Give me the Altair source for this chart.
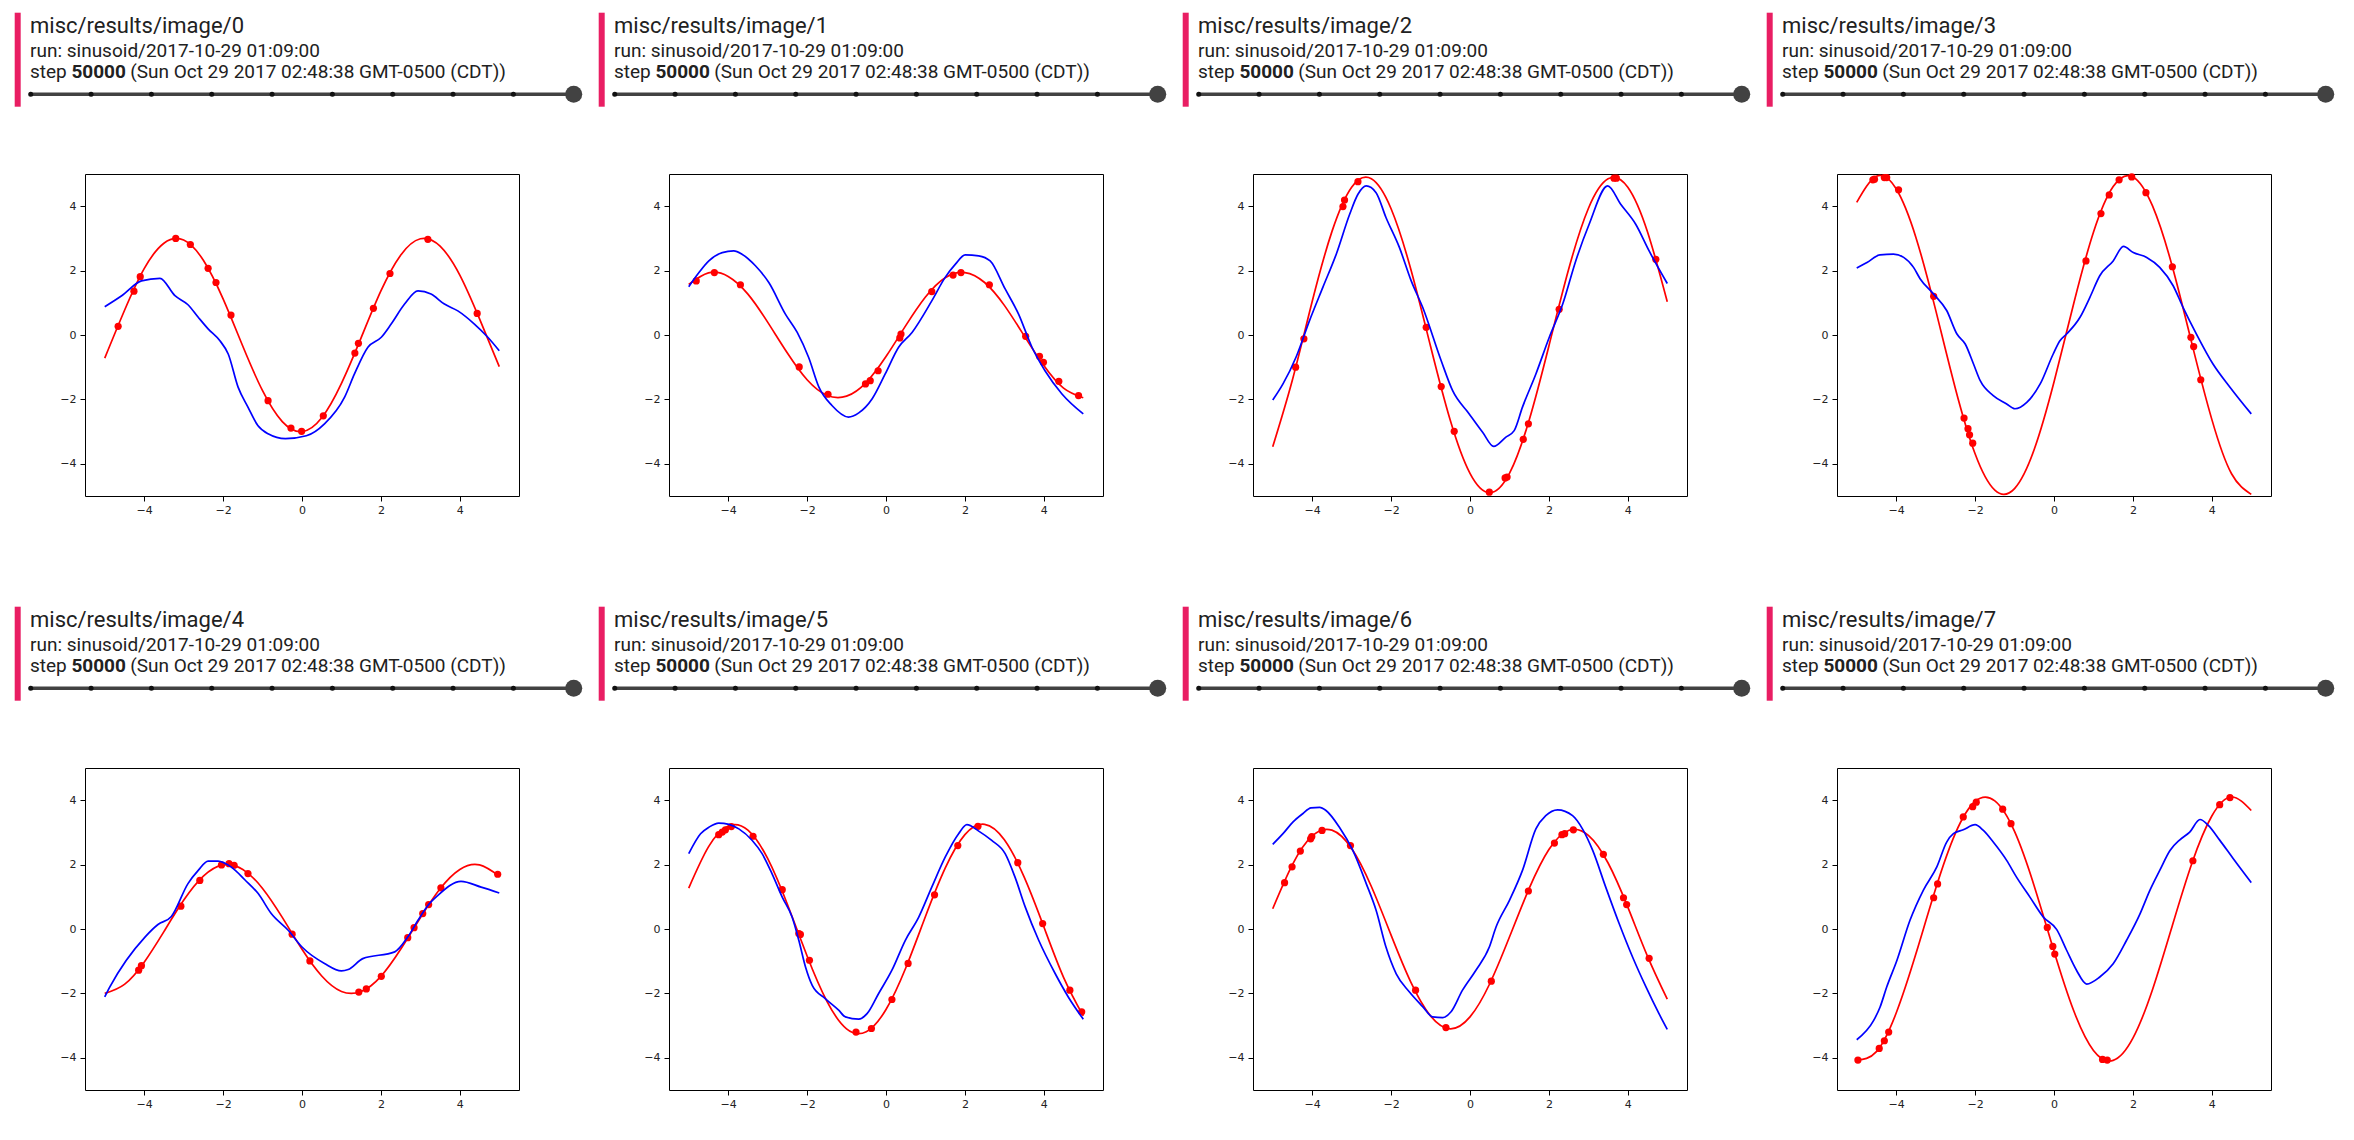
import altair as alt
import pandas as pd

# ---------------- data ----------------
TITLES = ["misc/results/image/0", "misc/results/image/1", "misc/results/image/2", "misc/results/image/3",
          "misc/results/image/4", "misc/results/image/5", "misc/results/image/6", "misc/results/image/7"]
RUN_TEXT = "run: sinusoid/2017-10-29 01:09:00"
STEP_WORD = "step"
STEP_VALUE = "50000"
STEP_DATE = "(Sun Oct 29 2017 02:48:38 GMT-0500 (CDT))"

X_TICKS = [-4, -2, 0, 2, 4]
Y_TICKS = [-4, -2, 0, 2, 4]

RED_X = [-5.0, -4.5, -4.0, -3.5, -3.0, -2.5, -2.0, -1.5, -1.0, -0.5, 0.0,
         0.5, 1.0, 1.5, 2.0, 2.5, 3.0, 3.5, 4.0, 4.5, 5.0]

RED_Y0 = [-0.72, 0.76, 2.06, 2.85, 2.95, 2.32, 1.12, -0.35, -1.73, -2.69, -3.00, -2.57, -1.50, -0.08, 1.37, 2.48, 2.99, 2.76, 1.86, 0.50, -0.98]
RED_Y1 = [1.57, 1.93, 1.82, 1.27, 0.40, -0.56, -1.39, -1.87, -1.90, -1.47, -0.67, 0.29, 1.18, 1.78, 1.94, 1.63, 0.92, -0.02, -0.95, -1.65, -1.95]
RED_Y2 = [-3.47, -1.39, 1.04, 3.21, 4.59, 4.85, 3.92, 2.04, -0.35, -2.65, -4.30, -4.90, -4.30, -2.64, -0.34, 2.04, 3.93, 4.85, 4.59, 3.20, 1.03]
RED_Y3 = [4.12, 4.93, 4.54, 3.03, 0.78, -1.66, -3.69, -4.82, -4.77, -3.55, -1.46, 0.98, 3.19, 4.61, 4.91, 4.00, 2.12, -0.29, -2.62, -4.31, -4.95]
RED_Y4 = [-2.00, -1.72, -1.03, -0.08, 0.89, 1.64, 1.99, 1.85, 1.26, 0.36, -0.63, -1.46, -1.94, -1.94, -1.47, -0.63, 0.35, 1.25, 1.85, 1.99, 1.64]
RED_Y5 = [1.27, 2.55, 3.20, 3.07, 2.19, 0.77, -0.84, -2.24, -3.10, -3.19, -2.50, -1.21, 0.39, 1.89, 2.93, 3.25, 2.77, 1.62, 0.07, -1.50, -2.70]
RED_Y6 = [0.63, 2.00, 2.89, 3.07, 2.50, 1.32, -0.19, -1.65, -2.70, -3.10, -2.73, -1.70, -0.25, 1.26, 2.47, 3.06, 2.91, 2.05, 0.68, -0.85, -2.18]
RED_Y7 = [-4.07, -3.81, -2.61, -0.77, 1.25, 2.97, 3.96, 3.98, 3.03, 1.33, -0.69, -2.54, -3.77, -4.08, -3.39, -1.87, 0.11, 2.06, 3.51, 4.10, 3.68]

PTS_X0 = [-4.66, -4.26, -4.10, -3.20, -2.83, -2.38, -2.18, -1.80, -0.86, -0.28, -0.01, 0.54, 1.34, 1.43, 1.81, 2.23, 3.19, 4.44]
PTS_Y0 = [0.27, 1.36, 1.81, 3.00, 2.81, 2.07, 1.63, 0.62, -2.04, -2.89, -2.99, -2.51, -0.56, -0.26, 0.83, 1.91, 2.97, 0.67]
PTS_X1 = [-4.81, -4.35, -3.69, -2.20, -1.47, -0.52, -0.40, -0.20, 0.35, 0.38, 1.16, 1.70, 1.90, 2.62, 3.54, 3.89, 3.99, 4.38, 4.88]
PTS_Y1 = [1.68, 1.94, 1.56, -0.99, -1.84, -1.52, -1.42, -1.11, -0.09, 0.03, 1.35, 1.86, 1.94, 1.56, -0.04, -0.66, -0.85, -1.44, -1.88]
PTS_X2 = [-4.42, -4.21, -3.22, -3.18, -2.84, -1.11, -0.73, -0.40, 0.49, 0.89, 0.94, 1.35, 1.48, 2.26, 3.65, 3.71, 4.71]
PTS_Y2 = [-1.00, -0.12, 3.99, 4.19, 4.76, 0.24, -1.60, -2.99, -4.88, -4.44, -4.41, -3.24, -2.76, 0.80, 4.87, 4.87, 2.35]
PTS_X3 = [-4.59, -4.55, -4.30, -4.24, -3.94, -3.05, -2.28, -2.18, -2.14, -2.06, 0.81, 1.19, 1.40, 1.65, 1.97, 2.33, 3.00, 3.47, 3.54, 3.72]
PTS_Y3 = [4.82, 4.84, 4.89, 4.89, 4.51, 1.20, -2.58, -2.91, -3.10, -3.36, 2.30, 3.77, 4.35, 4.82, 4.91, 4.42, 2.12, -0.07, -0.36, -1.39]
PTS_X4 = [-4.14, -4.07, -3.07, -2.59, -2.04, -1.85, -1.72, -1.37, -0.25, 0.20, 1.44, 1.63, 2.01, 2.68, 2.84, 3.06, 3.21, 3.52, 4.96]
PTS_Y4 = [-1.28, -1.14, 0.71, 1.51, 1.99, 2.03, 1.98, 1.72, -0.16, -0.99, -1.96, -1.86, -1.47, -0.27, 0.04, 0.48, 0.76, 1.28, 1.70]
PTS_X5 = [-4.24, -4.15, -4.07, -3.92, -3.37, -2.63, -2.21, -2.17, -1.94, -0.76, -0.37, 0.15, 0.56, 1.23, 1.82, 2.33, 3.34, 3.97, 4.66, 4.96]
PTS_Y5 = [2.93, 3.01, 3.08, 3.18, 2.88, 1.22, -0.14, -0.17, -0.97, -3.20, -3.09, -2.19, -1.07, 1.06, 2.59, 3.19, 2.06, 0.17, -1.90, -2.57]
PTS_X6 = [-4.70, -4.51, -4.30, -4.04, -4.01, -3.75, -3.03, -1.38, -0.61, 0.54, 1.48, 2.14, 2.33, 2.40, 2.62, 3.38, 3.89, 3.97, 4.54]
PTS_Y6 = [1.44, 1.93, 2.42, 2.80, 2.87, 3.06, 2.59, -1.90, -3.06, -1.62, 1.18, 2.67, 2.93, 2.96, 3.08, 2.32, 0.97, 0.76, -0.91]
PTS_X7 = [-4.97, -4.43, -4.30, -4.19, -3.05, -2.95, -2.30, -2.06, -1.97, -1.30, -1.09, -0.17, -0.03, 0.02, 1.23, 1.35, 3.52, 4.20, 4.46]
PTS_Y7 = [-4.07, -3.71, -3.47, -3.20, 0.97, 1.40, 3.48, 3.80, 3.94, 3.72, 3.27, 0.05, -0.54, -0.78, -4.05, -4.07, 2.12, 3.86, 4.08]

BLUE_X0 = [-5.0, -4.57, -4.07, -3.60, -3.22, -2.89, -2.63, -2.38, -2.08, -1.87, -1.62, -1.37, -1.12, -0.86, -0.42, 0.11, 0.57, 1.08, 1.33, 1.67, 2.01, 2.26, 2.60, 2.94, 3.27, 3.61, 3.95, 4.37, 4.71, 5.0]
BLUE_Y0 = [0.88, 1.22, 1.68, 1.76, 1.22, 0.94, 0.55, 0.19, -0.18, -0.59, -1.62, -2.24, -2.81, -3.07, -3.22, -3.13, -2.76, -1.93, -1.21, -0.38, -0.07, 0.34, 0.96, 1.37, 1.27, 0.96, 0.75, 0.34, -0.07, -0.49]
BLUE_X1 = [-5.0, -4.74, -4.49, -4.15, -3.86, -3.65, -3.31, -2.97, -2.55, -2.25, -1.96, -1.70, -1.37, -0.95, -0.69, -0.35, -0.02, 0.32, 0.66, 1.16, 1.50, 1.76, 2.01, 2.35, 2.64, 3.02, 3.36, 3.70, 4.03, 4.46, 5.0]
BLUE_Y1 = [1.50, 1.94, 2.30, 2.56, 2.61, 2.51, 2.15, 1.63, 0.65, 0.08, -0.70, -1.62, -2.19, -2.55, -2.42, -1.98, -1.21, -0.38, 0.08, 1.06, 1.79, 2.20, 2.49, 2.46, 2.30, 1.43, 0.65, -0.38, -1.11, -1.83, -2.45]
BLUE_X2 = [-5.0, -4.74, -4.41, -4.07, -3.73, -3.39, -3.05, -2.84, -2.63, -2.38, -2.13, -1.79, -1.49, -1.20, -0.73, -0.44, -0.02, 0.32, 0.60, 0.91, 1.12, 1.33, 1.67, 2.01, 2.35, 2.68, 3.02, 3.49, 3.82, 4.20, 4.54, 5.0]
BLUE_Y2 = [-2.02, -1.52, -0.69, 0.44, 1.48, 2.51, 3.75, 4.37, 4.63, 4.42, 3.65, 2.72, 1.68, 0.86, -0.80, -1.73, -2.45, -3.02, -3.46, -3.17, -2.97, -2.24, -1.21, -0.07, 0.96, 2.30, 3.44, 4.63, 4.06, 3.44, 2.61, 1.60]
BLUE_X3 = [-5.0, -4.74, -4.41, -4.07, -3.81, -3.56, -3.39, -3.05, -2.72, -2.46, -2.25, -2.04, -1.87, -1.54, -1.20, -0.99, -0.69, -0.35, -0.02, 0.15, 0.32, 0.66, 0.91, 1.16, 1.50, 1.76, 2.01, 2.35, 2.68, 3.02, 3.27, 3.61, 4.03, 4.46, 5.0]
BLUE_Y3 = [2.08, 2.25, 2.49, 2.51, 2.41, 2.10, 1.74, 1.27, 0.76, 0.03, -0.28, -0.90, -1.42, -1.88, -2.14, -2.29, -2.09, -1.52, -0.59, -0.18, 0.03, 0.55, 1.17, 1.84, 2.30, 2.75, 2.56, 2.41, 2.10, 1.53, 0.86, 0.03, -0.90, -1.62, -2.45]
BLUE_X4 = [-5.0, -4.87, -3.98, -3.65, -3.31, -2.89, -2.63, -2.38, -2.13, -1.79, -1.45, -1.11, -0.78, -0.35, 0.0, 0.57, 1.0, 1.17, 1.54, 2.35, 2.68, 2.94, 3.19, 3.44, 4.03, 4.54, 5.0]
BLUE_Y4 = [-2.11, -1.80, -0.25, 0.14, 0.39, 1.41, 1.82, 2.11, 2.11, 1.92, 1.53, 1.10, 0.48, -0.04, -0.56, -1.07, -1.30, -1.26, -0.92, -0.71, -0.25, 0.27, 0.73, 1.04, 1.48, 1.30, 1.12]
BLUE_X5 = [-5.0, -4.70, -4.49, -4.24, -3.98, -3.73, -3.39, -3.14, -2.89, -2.63, -2.38, -2.21, -2.04, -1.87, -1.54, -1.20, -1.03, -0.69, -0.48, -0.19, 0.15, 0.49, 0.83, 1.16, 1.50, 1.84, 2.05, 2.35, 2.68, 3.02, 3.27, 3.53, 3.87, 4.29, 4.62, 5.0]
BLUE_Y5 = [2.34, 2.96, 3.16, 3.29, 3.25, 3.11, 2.75, 2.34, 1.72, 0.99, 0.37, -0.35, -1.18, -1.75, -2.16, -2.52, -2.73, -2.80, -2.63, -2.01, -1.28, -0.35, 0.37, 1.30, 2.23, 2.96, 3.24, 3.04, 2.75, 2.34, 1.61, 0.68, -0.35, -1.39, -2.11, -2.80]
BLUE_X6 = [-5.0, -4.74, -4.49, -4.24, -4.03, -3.81, -3.65, -3.31, -2.97, -2.63, -2.38, -2.13, -1.87, -1.54, -1.20, -0.95, -0.69, -0.48, -0.19, 0.15, 0.49, 0.66, 1.00, 1.33, 1.67, 1.92, 2.22, 2.60, 2.85, 3.11, 3.44, 3.78, 4.12, 4.46, 4.79, 5.0]
BLUE_Y6 = [2.63, 2.96, 3.32, 3.58, 3.76, 3.78, 3.68, 3.16, 2.44, 1.41, 0.58, -0.56, -1.39, -1.95, -2.41, -2.73, -2.75, -2.57, -1.90, -1.28, -0.56, 0.06, 0.89, 1.82, 3.11, 3.52, 3.70, 3.52, 3.11, 2.44, 1.30, 0.17, -0.87, -1.80, -2.63, -3.12]
BLUE_X7 = [-5.0, -4.57, -4.41, -4.24, -3.98, -3.65, -3.31, -2.97, -2.72, -2.55, -2.30, -2.00, -1.79, -1.54, -1.20, -0.95, -0.61, -0.27, 0.07, 0.32, 0.57, 0.83, 1.16, 1.50, 1.84, 2.18, 2.43, 2.68, 2.94, 3.19, 3.44, 3.70, 3.91, 4.20, 4.54, 5.0]
BLUE_Y7 = [-3.44, -2.84, -2.43, -1.80, -0.97, 0.27, 1.21, 1.93, 2.70, 2.96, 3.08, 3.24, 3.06, 2.70, 2.13, 1.61, 0.99, 0.37, -0.02, -0.66, -1.28, -1.71, -1.49, -1.08, -0.35, 0.47, 1.20, 1.82, 2.44, 2.77, 3.01, 3.40, 3.22, 2.76, 2.19, 1.44]

RED_Y = [RED_Y0, RED_Y1, RED_Y2, RED_Y3, RED_Y4, RED_Y5, RED_Y6, RED_Y7]
PTS_X = [PTS_X0, PTS_X1, PTS_X2, PTS_X3, PTS_X4, PTS_X5, PTS_X6, PTS_X7]
PTS_Y = [PTS_Y0, PTS_Y1, PTS_Y2, PTS_Y3, PTS_Y4, PTS_Y5, PTS_Y6, PTS_Y7]
BLUE_X = [BLUE_X0, BLUE_X1, BLUE_X2, BLUE_X3, BLUE_X4, BLUE_X5, BLUE_X6, BLUE_X7]
BLUE_Y = [BLUE_Y0, BLUE_Y1, BLUE_Y2, BLUE_Y3, BLUE_Y4, BLUE_Y5, BLUE_Y6, BLUE_Y7]

# ---------------- layout / style ----------------
PLOT_W, PLOT_H = 434, 322
COL_GAP, ROW_GAP = 150, 272
OX, OY = 84.3, 173.3          # plot origin of first panel (page px)

def rx(px):
    return px - OX

def ry(py):
    return py - OY

PINK = "#e91e63"
DARK = "#424242"
TXT = "#212121"
HEAD = pd.DataFrame({"k": [0]})

xs = alt.Scale(domain=[-5.5, 5.5], nice=False, zero=False)
ys = alt.Scale(domain=[-5, 5], nice=False, zero=False)
xax = alt.Axis(values=X_TICKS, title=None, grid=False, domain=False, tickColor="black",
               tickSize=5, tickWidth=1, labelFont="DejaVu Sans", labelFontSize=11,
               labelColor="#222", labelPadding=3)
yax = alt.Axis(values=Y_TICKS, title=None, grid=False, domain=False, tickColor="black",
               tickSize=5, tickWidth=1, labelFont="DejaVu Sans", labelFontSize=11,
               labelColor="#222", labelPadding=4)
EX = alt.X("x:Q", scale=xs, axis=xax)
EY = alt.Y("y:Q", scale=ys, axis=yax)


def text_layer(txt, x, y, size, weight="normal"):
    return alt.Chart(HEAD).mark_text(align="left", baseline="alphabetic", font="Roboto",
                                     fontSize=size, fontWeight=weight, color=TXT).encode(
        x=alt.value(rx(x)), y=alt.value(ry(y)), text=alt.value(txt))


def panel(i):
    red = pd.DataFrame({"x": RED_X, "y": RED_Y[i]})
    pts = pd.DataFrame({"x": PTS_X[i], "y": PTS_Y[i]})
    blue = pd.DataFrame({"x": BLUE_X[i], "y": BLUE_Y[i]})

    red_line = alt.Chart(red).mark_line(color="#ff0000", strokeWidth=1.7,
                                        interpolate="natural").encode(x=EX, y=EY)
    red_pts = alt.Chart(pts).mark_circle(color="#ff0000", size=52, opacity=1).encode(x=EX, y=EY)
    blue_line = alt.Chart(blue).mark_line(color="#0000ff", strokeWidth=1.7,
                                          interpolate="monotone").encode(x=EX, y=EY)

    bar = alt.Chart(HEAD).mark_rect(color=PINK).encode(
        x=alt.value(rx(14)), x2=alt.value(rx(20)), y=alt.value(ry(12)), y2=alt.value(ry(106)))
    title = text_layer(TITLES[i], 29.3, 32.3, 22)
    run = text_layer(RUN_TEXT, 29.3, 56.7, 19)
    s1 = text_layer(STEP_WORD, 29.3, 77.7, 19)
    s2 = text_layer(STEP_VALUE, 70.7, 77.7, 19, "bold")
    s3 = text_layer(STEP_DATE, 129.5, 77.7, 19)
    track = alt.Chart(HEAD).mark_rule(color=DARK, strokeWidth=3.5).encode(
        x=alt.value(rx(30)), x2=alt.value(rx(573)), y=alt.value(ry(93.5)))
    dots = alt.Chart(HEAD).mark_rule(color="#111111", strokeWidth=5, strokeCap="round",
                                     strokeDash=[0.1, 60.23]).encode(
        x=alt.value(rx(30)), x2=alt.value(rx(513)), y=alt.value(ry(93.5)))
    knob = alt.Chart(HEAD).mark_circle(color=DARK, size=290, opacity=1).encode(
        x=alt.value(rx(573)), y=alt.value(ry(93.5)))

    return alt.layer(red_line, red_pts, blue_line, bar, title, run, s1, s2, s3,
                     track, dots, knob).properties(width=PLOT_W, height=PLOT_H)


chart = alt.concat(*[panel(i) for i in range(8)], columns=4,
                   spacing={"row": ROW_GAP, "column": COL_GAP}, bounds="flush").properties(
    padding={"left": 6, "top": 4, "right": 5, "bottom": 5},
    background="white",
).configure_view(stroke="black", strokeWidth=1)

chart.save("out.html", embed_options={"renderer": "svg", "actions": False})
